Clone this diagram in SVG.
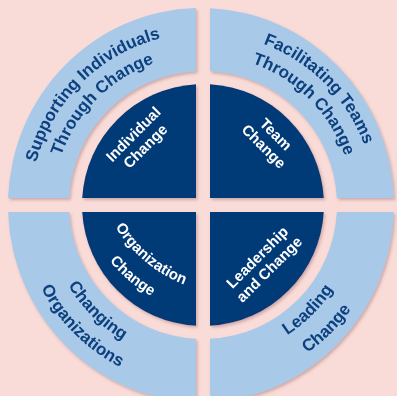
<svg xmlns="http://www.w3.org/2000/svg" width="397" height="396" viewBox="0 0 397 396">
<style>
.band{fill:#a9c9e8}
.core{fill:#043b77}
.ot{font-family:"Liberation Sans",Arial,sans-serif;font-weight:bold;font-size:17px;fill:#0c3f7e}
.it{font-family:"Liberation Sans",Arial,sans-serif;font-weight:bold;font-size:15px;fill:#ffffff;text-anchor:middle}
</style>
<defs>
<filter id="sh" x="-10%" y="-10%" width="120%" height="120%">
<feDropShadow dx="1.5" dy="2" stdDeviation="1.5" flood-color="#9a6e6e" flood-opacity="0.45"/>
</filter>
<path id="pTL1" d="M81.38,326.62 A172,172 0 0 1 81.38,83.38 A172,172 0 0 1 324.62,83.38"/>
<path id="pTL2" d="M96.93,311.07 A150,150 0 0 1 96.93,98.93 A150,150 0 0 1 309.07,98.93"/>
<path id="pTR1" d="M81.38,83.38 A172,172 0 0 1 324.62,83.38 A172,172 0 0 1 324.62,326.62"/>
<path id="pTR2" d="M96.93,98.93 A150,150 0 0 1 309.07,98.93 A150,150 0 0 1 309.07,311.07"/>
<path id="pBL1" d="M91.99,93.99 A157,157 0 0 0 91.99,316.01 A157,157 0 0 0 314.01,316.01"/>
<path id="pBL2" d="M74.31,76.31 A182,182 0 0 0 74.31,333.69 A182,182 0 0 0 331.69,333.69"/>
<path id="pBR1" d="M93.40,314.60 A155,155 0 0 0 312.60,314.60 A155,155 0 0 0 312.60,95.40"/>
<path id="pBR2" d="M75.01,332.99 A181,181 0 0 0 330.99,332.99 A181,181 0 0 0 330.99,77.01"/>
<path id="pOC1" d="M127.75,64.01 A140,140 0 0 0 145.01,261.25 A140,140 0 0 0 342.25,243.99"/>
<path id="pOC2" d="M108.61,47.94 A165,165 0 0 0 128.94,280.39 A165,165 0 0 0 361.39,260.06"/>
</defs>
<rect width="397" height="396" fill="#f9dbd8"/>
<g id="outer-tl" filter="url(#sh)">
<path class="band" d="M196,8.07 A193,197 0 0 0 8.12,198 L69.18,198 A134,134 0 0 1 196,71.18 Z"/>
<text class="ot" text-anchor="middle"><textPath href="#pTL1" startOffset="50%">Supporting Individuals</textPath></text>
<text class="ot" text-anchor="middle"><textPath href="#pTL2" startOffset="50%">Through Change</textPath></text>
</g>
<g id="outer-tr" filter="url(#sh)">
<path class="band" d="M210,8.21 A193,197 0 0 1 393.88,198 L336.82,198 A134,134 0 0 0 210,71.18 Z"/>
<text class="ot" text-anchor="middle"><textPath href="#pTR1" startOffset="50%">Facilitating Teams</textPath></text>
<text class="ot" text-anchor="middle"><textPath href="#pTR2" startOffset="50%">Through Change</textPath></text>
</g>
<g id="outer-bl" filter="url(#sh)">
<path class="band" d="M196,401.93 A193,197 0 0 1 8.12,212 L69.18,212 A134,134 0 0 0 196,338.82 Z"/>
<text class="ot" text-anchor="middle"><textPath href="#pBL1" startOffset="50%">Changing</textPath></text>
<text class="ot" text-anchor="middle"><textPath href="#pBL2" startOffset="50%">Organizations</textPath></text>
</g>
<g id="outer-br" filter="url(#sh)">
<path class="band" d="M210,401.79 A193,197 0 0 0 393.88,212 L336.82,212 A134,134 0 0 1 210,338.82 Z"/>
<text class="ot" text-anchor="middle"><textPath href="#pBR1" startOffset="50%">Leading</textPath></text>
<text class="ot" text-anchor="middle"><textPath href="#pBR2" startOffset="50%">Change</textPath></text>
</g>
<g id="inner-tl" filter="url(#sh)">
<path class="core" d="M196,198 L82.2,198 A121,121 0 0 1 196,84.2 Z"/>
<text class="it" transform="translate(139,140) rotate(-45)"><tspan x="0" y="-3">Individual</tspan><tspan x="0" y="14">Change</tspan></text>
</g>
<g id="inner-tr" filter="url(#sh)">
<path class="core" d="M210,198 L323.8,198 A121,121 0 0 0 210,84.2 Z"/>
<text class="it" transform="translate(270,140) rotate(45)"><tspan x="0" y="-3">Team</tspan><tspan x="0" y="14">Change</tspan></text>
</g>
<g id="inner-bl" filter="url(#sh)">
<path class="core" d="M196,212 L82.2,212 A121,121 0 0 0 196,325.8 Z"/>
<text class="it"><textPath href="#pOC1" startOffset="50%">Organization</textPath></text>
<text class="it"><textPath href="#pOC2" startOffset="50%">Change</textPath></text>
</g>
<g id="inner-br" filter="url(#sh)">
<path class="core" d="M210,212 L323.8,212 A121,121 0 0 1 210,325.8 Z"/>
<text class="it" transform="translate(263,263) rotate(-45)"><tspan x="0" y="-3">Leadership</tspan><tspan x="0" y="14">and Change</tspan></text>
</g>
<g id="connectors"></g>
</svg>
